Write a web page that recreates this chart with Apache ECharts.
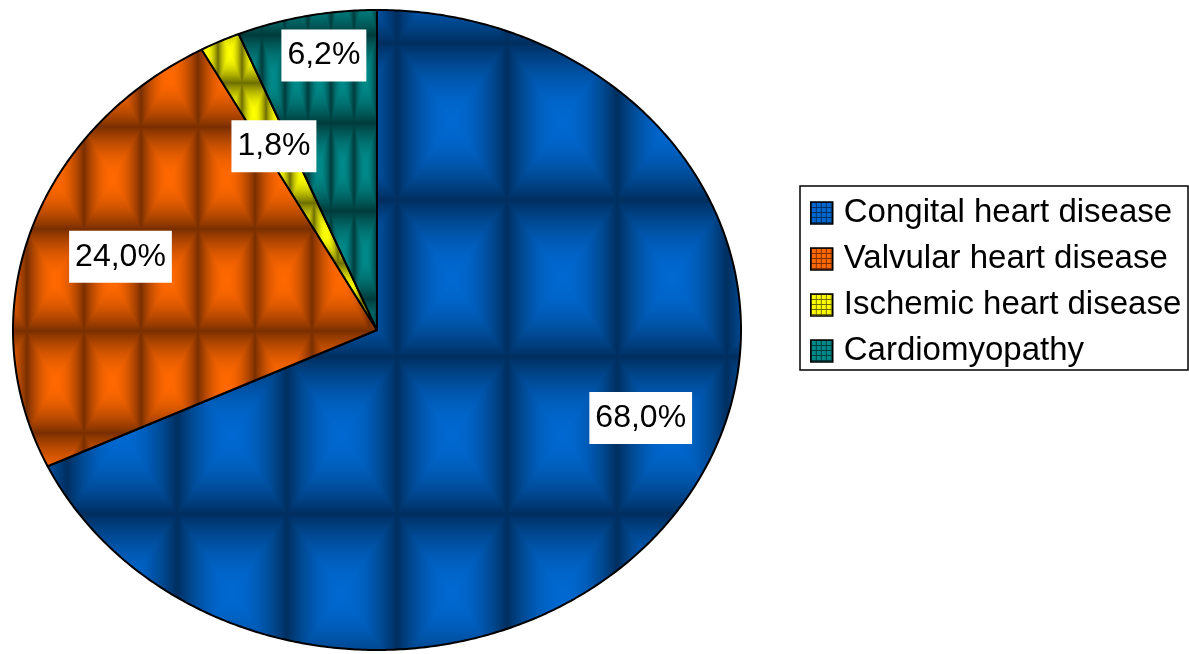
<!DOCTYPE html>
<html>
<head>
<meta charset="utf-8">
<title>Heart disease categories</title>
<script src="https://cdn.jsdelivr.net/npm/echarts@6/dist/echarts.min.js"></script>
<style>
  html, body { margin: 0; padding: 0; background: #ffffff; }
  #chart { width: 1189px; height: 654px; }
</style>
</head>
<body>
<div id="chart"></div>
<script>
// ---- data ----
const categories = [
  'Congital heart disease',
  'Valvular heart disease',
  'Ischemic heart disease',
  'Cardiomyopathy'
];
const shares = [68.0, 24.0, 1.8, 6.2];

// ---- styling ----
const FONT = '"Liberation Sans", Arial, Helvetica, sans-serif';
// [dark, bright] rgb of each slice's pillow texture
const shades = [
  [[0, 46, 94], [0, 104, 208]],
  [[120, 46, 0], [255, 104, 0]],
  [[108, 108, 0], [255, 255, 0]],
  [[0, 58, 58], [0, 138, 138]]
];
// texture tile size and offset per slice
const tiles = [
  { w: 110, h: 157, x: 67, y: 43 },
  { w: 57, h: 102, x: 27, y: 25 },
  { w: 24, h: 60, x: 218, y: 23 },
  { w: 23, h: 88, x: 9, y: 35 }
];
// elliptical pie geometry
const PIE = { cx: 377, cy: 330, rx: 364, ry: 320 };
// label anchor: fraction of the radius and angular nudge (degrees)
const labelPlace = [
  { r: 0.775, shift: -11.6 },
  { r: 0.741, shift: 0 },
  { r: 0.64, shift: -0.7 },
  { r: 0.87, shift: 1.5 }
];

const total = shares.reduce((a, b) => a + b, 0);
const starts = shares.map((_, i) => shares.slice(0, i).reduce((a, b) => a + b, 0));

function rgb(c) { return 'rgb(' + c[0] + ',' + c[1] + ',' + c[2] + ')'; }

// square "pillow" tile: bright centre fading to dark edges with bevel seams
function pillowTile(w, h, dark, bright) {
  const c = document.createElement('canvas');
  c.width = w; c.height = h;
  const ctx = c.getContext('2d');
  const img = ctx.createImageData(w, h);
  for (let y = 0; y < h; y++) {
    for (let x = 0; x < w; x++) {
      const dx = Math.abs((x + 0.5) / w * 2 - 1);
      const dy = Math.abs((y + 0.5) / h * 2 - 1);
      const d = Math.max(dx, dy);
      const t = Math.pow(Math.cos(d * Math.PI / 2), 0.9);
      const p = (y * w + x) * 4;
      for (let k = 0; k < 3; k++) img.data[p + k] = Math.round(dark[k] + (bright[k] - dark[k]) * t);
      img.data[p + 3] = 255;
    }
  }
  ctx.putImageData(img, 0, 0);
  return c;
}

// small grid tile for legend swatches
function gridTile(dark, bright) {
  const c = document.createElement('canvas');
  c.width = 5; c.height = 5;
  const ctx = c.getContext('2d');
  ctx.fillStyle = rgb(bright);
  ctx.fillRect(0, 0, 5, 5);
  ctx.fillStyle = rgb(dark);
  ctx.fillRect(4, 0, 1, 5);
  ctx.fillRect(0, 4, 5, 1);
  return c;
}

const sliceFills = shades.map((s, i) => ({
  image: pillowTile(tiles[i].w, tiles[i].h, s[0], s[1]),
  repeat: 'repeat',
  x: tiles[i].x,
  y: tiles[i].y
}));
const swatchFills = shades.map(s => ({ image: gridTile(s[0], s[1]), repeat: 'repeat', x: 1, y: 1 }));

function ellipsePoint(angle, f) {
  return [PIE.cx + PIE.rx * f * Math.sin(angle), PIE.cy - PIE.ry * f * Math.cos(angle)];
}

function sliceRenderer(i) {
  return function (params, api) {
    const v0 = api.value(0), v = api.value(1);
    const a0 = v0 / total * Math.PI * 2;
    const a1 = (v0 + v) / total * Math.PI * 2;
    const steps = Math.max(2, Math.ceil((a1 - a0) / (Math.PI / 360)));
    const pts = [[PIE.cx, PIE.cy]];
    for (let k = 0; k <= steps; k++) {
      pts.push(ellipsePoint(a0 + (a1 - a0) * k / steps, 1));
    }
    return {
      type: 'polygon',
      shape: { points: pts },
      style: { fill: sliceFills[i], stroke: '#000', lineWidth: 2, lineJoin: 'round' }
    };
  };
}

function labelRenderer(params, api) {
  const i = params.dataIndex;
  const v0 = api.value(0), v = api.value(1);
  const mid = (v0 + v / 2) / total * Math.PI * 2 + labelPlace[i].shift * Math.PI / 180;
  const p = ellipsePoint(mid, labelPlace[i].r);
  return {
    type: 'text',
    x: p[0],
    y: p[1],
    style: {
      text: v.toFixed(1).replace('.', ',') + '%',
      fontSize: 32,
      fontFamily: FONT,
      fill: '#000',
      align: 'center',
      verticalAlign: 'middle',
      lineHeight: 32,
      backgroundColor: '#fff',
      padding: [10, 6]
    }
  };
}

const series = categories.map((name, i) => ({
  type: 'custom',
  name: name,
  coordinateSystem: 'none',
  silent: true,
  z: 2,
  itemStyle: { color: rgb(shades[i][1]) },
  data: [[starts[i], shares[i]]],
  renderItem: sliceRenderer(i)
}));
series.push({
  type: 'custom',
  name: 'values',
  coordinateSystem: 'none',
  silent: true,
  z: 5,
  data: shares.map((v, i) => [starts[i], v]),
  renderItem: labelRenderer
});

const chart = echarts.init(document.getElementById('chart'), null, { renderer: 'canvas' });
chart.setOption({
  backgroundColor: '#ffffff',
  animation: false,
  legend: {
    orient: 'vertical',
    left: 800,
    top: 188,
    padding: [8, 0, 2, 10],
    icon: 'rect',
    itemWidth: 22,
    itemHeight: 22,
    itemGap: 12,
    selectedMode: false,
    textStyle: {
      fontSize: 33,
      fontFamily: FONT,
      color: '#000',
      lineHeight: 34,
      padding: [0, 0, 0, 6]
    },
    data: categories.map((name, i) => ({
      name: name,
      itemStyle: { color: swatchFills[i], borderColor: '#000', borderWidth: 1.5 }
    }))
  },
  graphic: [{
    type: 'rect',
    shape: { x: 800, y: 186, width: 388, height: 184 },
    style: { fill: 'none', stroke: '#000', lineWidth: 1.5 },
    silent: true
  }],
  series: series
});
</script>
</body>
</html>
